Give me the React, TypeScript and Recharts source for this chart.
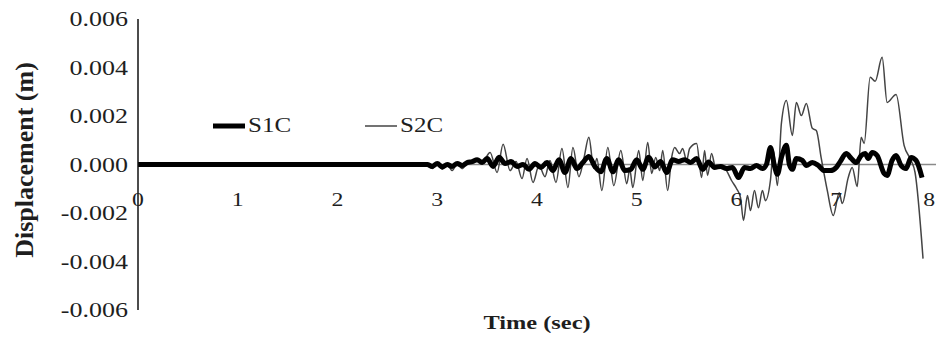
import React from "react";
import {
  LineChart,
  Line,
  XAxis,
  YAxis,
  CartesianGrid,
  Legend,
  Label,
} from "recharts";

// time (sec) and displacement (mm)
const s2cTime = [
  0, 2.9, 2.95, 3.0, 3.05, 3.1, 3.15, 3.2, 3.25, 3.3, 3.38, 3.45, 3.53, 3.6, 3.66, 3.73, 3.79, 3.85, 3.9, 3.96,
  4.02, 4.08, 4.13, 4.19, 4.25, 4.31, 4.36, 4.42, 4.47, 4.52, 4.57, 4.6, 4.65, 4.71, 4.77, 4.84, 4.9, 4.93, 4.96,
  5.02, 5.06, 5.11, 5.15, 5.19, 5.23, 5.26, 5.31, 5.35, 5.38, 5.43, 5.46, 5.5, 5.53, 5.6, 5.65, 5.68, 5.71, 5.75,
  5.79, 5.85, 5.9, 5.95, 6.0, 6.04, 6.07, 6.11, 6.14, 6.18, 6.22, 6.26, 6.29, 6.34, 6.37, 6.41, 6.45, 6.5, 6.56,
  6.6, 6.65, 6.7, 6.76, 6.8, 6.85, 6.91, 6.97, 7.03, 7.06, 7.12, 7.16, 7.21, 7.25, 7.28, 7.34, 7.39, 7.46, 7.51,
  7.6, 7.68, 7.75, 7.79, 7.87,
];
const s2cMm = [
  0, 0, -0.17, 0.04, -0.2, 0, -0.25, 0.04, -0.17, 0.08, 0.17, 0.08, 0.5, -0.33, 0.83, -0.25, 0.12, -0.58, 0.25, -0.74,
  -0.04, -0.5, 0.17, -0.74, 0.66, -0.95, 0.7, -0.5, 0.25, 1.12, -0.17, 0.25, -1.07, 0.7, -0.87, 0.58, -0.79, -0.2, -0.95,
  0.58, -0.66, 0.91, -0.37, 0.29, -0.25, 0.58, -1.07, 0.29, 0.7, 0.45, 0.66, 0.17, 0.66, 0.87, -0.54, 0.58, -0.45, 0.45,
  -0.12, -0.04, -0.25, -0.66, -0.99, -1.36, -2.31, -1.28, -1.9, -1.07, -1.78, -1.07, -1.49, -0.66, 0.58, -0.87, 1.69, 2.64, 1.2,
  2.56, 2.02, 2.52, 1.49, 1.4, 0.25, -1.07, -2.1, -1.16, -1.61, -0.54, -0.12, -0.91, 1.12, 0.87, 3.6, 3.43, 4.42, 2.56,
  2.89, 0.79, 0.17, -0.33, -3.88,
];

const s1cTime = [
  0, 2.9, 2.95, 3.0, 3.05, 3.1, 3.15, 3.2, 3.25, 3.3, 3.35, 3.4, 3.45, 3.5, 3.56, 3.62, 3.68, 3.74, 3.8, 3.86,
  3.92, 3.98, 4.04, 4.1, 4.16, 4.22, 4.28, 4.34, 4.4, 4.46, 4.52, 4.58, 4.64, 4.7, 4.76, 4.82, 4.88, 4.94, 5.0,
  5.06, 5.12, 5.18, 5.24, 5.3, 5.36, 5.42, 5.48, 5.54, 5.6, 5.66, 5.72, 5.78, 5.84, 5.9, 5.96, 6.02, 6.08, 6.14,
  6.2, 6.26, 6.3, 6.34, 6.38, 6.41, 6.45, 6.5, 6.53, 6.56, 6.6, 6.66, 6.7, 6.76, 6.82, 6.88, 6.94, 7.0, 7.04, 7.1,
  7.15, 7.2, 7.25, 7.29, 7.32, 7.36, 7.41, 7.48, 7.51, 7.56, 7.6, 7.65, 7.7, 7.75, 7.8, 7.86,
];
const s1cMm = [
  0, 0, -0.08, 0.04, -0.1, 0, -0.08, 0.04, -0.04, 0.08, 0.12, 0.2, 0.08, 0.25, -0.08, 0.3, 0.04, 0.12, -0.08, 0,
  -0.2, 0.04, -0.12, 0.08, -0.25, 0.2, -0.33, 0.25, -0.17, 0.08, 0.33, -0.08, -0.3, 0.25, -0.3, 0.2, -0.25, -0.2, 0.2,
  -0.2, 0.3, -0.1, 0.12, -0.33, 0.2, 0.12, 0.2, 0.08, 0.25, -0.2, 0.1, -0.12, -0.08, -0.17, -0.12, -0.54, -0.12, -0.17,
  -0.04, -0.17, 0, 0.7, -0.05, -0.4, 0.29, 0.79, 0, -0.2, 0.25, 0.17, -0.04, 0.08, -0.04, -0.25, -0.25, -0.12, 0.12, 0.45,
  0.25, 0.08, 0.37, 0.45, 0.25, 0.5, 0.37, -0.37, -0.45, 0.17, 0.37, -0.04, -0.17, 0.29, 0.17, -0.54,
];

const xTicks = [0, 1, 2, 3, 4, 5, 6, 7, 8];
const yTicks = [-0.006, -0.004, -0.002, 0, 0.002, 0.004, 0.006];
const seriesNames = ["S1C", "S2C"];

const s1cData = s1cTime.map((t, i) => ({ t, v: s1cMm[i] / 1000 }));
const s2cData = s2cTime.map((t, i) => ({ t, v: s2cMm[i] / 1000 }));

const SERIF = '"Liberation Serif", "Times New Roman", serif';
const INK = "#1e1e1e";
const WIDTH = 936;
const TOP = 19;
const PLOT_H = 291;
const LEFT = 138;
const ZERO_Y = TOP + PLOT_H / 2;

function XTick(props: any) {
  const { x, payload } = props;
  // last label sits on the right edge: keep it inside the picture
  const atEdge = x > WIDTH - 8;
  return (
    <text
      transform={`translate(${atEdge ? WIDTH - 1 : x},${ZERO_Y + 41}) scale(1.25,1)`}
      textAnchor={atEdge ? "end" : "middle"}
      fontFamily={SERIF}
      fontSize={19}
      fill={INK}
    >
      {payload.value}
    </text>
  );
}

function YTick(props: any) {
  const { y, payload } = props;
  return (
    <text
      transform={`translate(${LEFT - 10},${y + 7}) scale(1.3,1)`}
      textAnchor="end"
      fontFamily={SERIF}
      fontSize={20}
      fill={INK}
    >
      {payload.value.toFixed(3)}
    </text>
  );
}

function LegendBox() {
  const styles = [
    { stroke: "#000", width: 5 },
    { stroke: "#444", width: 1.5 },
  ];
  return (
    <div style={{ display: "flex", alignItems: "center", fontFamily: SERIF, fontSize: 20, color: INK }}>
      {seriesNames.map((name, i) => (
        <div key={name} style={{ display: "flex", alignItems: "center", width: 152 }}>
          <svg width={32} height={10}>
            <line x1={0} y1={5} x2={32} y2={5} stroke={styles[i].stroke} strokeWidth={styles[i].width} />
          </svg>
          <span style={{ marginLeft: 3, display: "inline-block", transform: "scaleX(1.25)", transformOrigin: "left" }}>
            {name}
          </span>
        </div>
      ))}
    </div>
  );
}

export default function App() {
  return (
    <div style={{ position: "absolute", left: 0, top: 0, width: WIDTH, height: 339, background: "#fff" }}>
      <LineChart width={WIDTH} height={339} margin={{ top: TOP, right: 0, bottom: 0, left: 0 }}>
        <CartesianGrid horizontal vertical={false} horizontalValues={[0]} stroke="#8a8a8a" strokeWidth={1.5} />
        <XAxis
          dataKey="t"
          type="number"
          domain={[0, 8]}
          ticks={xTicks}
          axisLine={false}
          tickLine={false}
          height={29}
          tick={<XTick />}
          interval={0}
        >
          <Label
            content={(p: any) => {
              const vb = p.viewBox;
              return (
                <text
                  transform={`translate(${vb.x + vb.width / 2},${vb.y + 19}) scale(1.25,1)`}
                  textAnchor="middle"
                  fontFamily={SERIF}
                  fontWeight="bold"
                  fontSize={19.5}
                  fill={INK}
                >
                  Time (sec)
                </text>
              );
            }}
          />
        </XAxis>
        <YAxis
          type="number"
          domain={[-0.006, 0.006]}
          ticks={yTicks}
          width={LEFT}
          axisLine={{ stroke: "#111", strokeWidth: 1.5 }}
          tickLine={false}
          tick={<YTick />}
          interval={0}
        >
          <Label
            content={() => (
              <text
                transform={`translate(33,${TOP + 141}) rotate(-90)`}
                textAnchor="middle"
                fontFamily={SERIF}
                fontWeight="bold"
                fontSize={26}
                fill={INK}
              >
                Displacement (m)
              </text>
            )}
          />
        </YAxis>
        <Legend
          content={<LegendBox />}
          verticalAlign="middle"
          align="center"
          wrapperStyle={{ left: 213, top: 114, width: "auto" }}
        />
        <Line
          data={s2cData}
          dataKey="v"
          name={seriesNames[1]}
          type="monotone"
          stroke="#444"
          strokeWidth={1.5}
          dot={false}
          isAnimationActive={false}
        />
        <Line
          data={s1cData}
          dataKey="v"
          name={seriesNames[0]}
          type="monotone"
          stroke="#000"
          strokeWidth={5}
          dot={false}
          isAnimationActive={false}
        />
      </LineChart>
    </div>
  );
}
